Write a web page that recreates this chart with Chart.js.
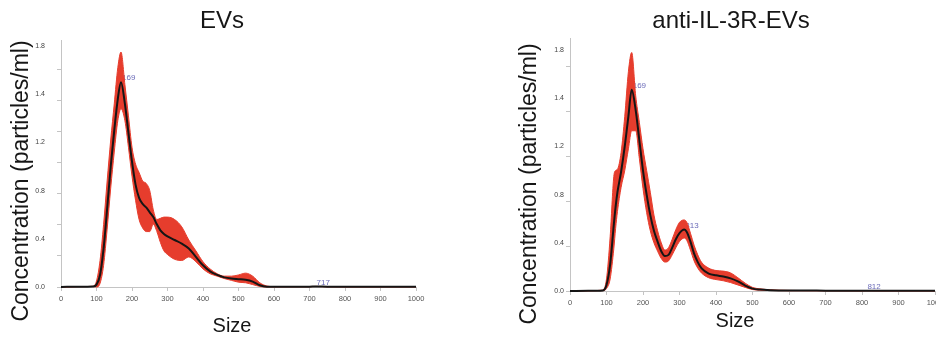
<!DOCTYPE html>
<html><head><meta charset="utf-8">
<script src="https://cdn.jsdelivr.net/npm/chart.js@4/dist/chart.umd.min.js"></script>
<style>
html,body{margin:0;padding:0;width:936px;height:337px;overflow:hidden;background:#fff;}
.box{position:absolute;top:0;height:337px;}
#b1{left:0;width:460px;}
#b2{left:500px;width:466px;}
</style></head><body>
<div class="box" id="b1"><canvas id="c1"></canvas></div>
<div class="box" id="b2"><canvas id="c2"></canvas></div>
<script>
// ---- data ----
const yTickLabels = ['0.0','0.4','0.8','1.2','1.4','1.8'];
const xTickStep = 100;
const xTitle = 'Size';
const yTitle = 'Concentration (particles/ml)';

const evsSizes = [0,50,90,100,110,120,130,140,150,160,169,180,190,200,210,220,230,240,250,260,270,280,290,300,320,340,360,380,400,420,440,460,480,500,520,540,560,580,600,700,717,750,800,900,1000];
const evsMean  = [0,0.003,0.005,0.02,0.10,0.32,0.65,1.00,1.30,1.56,1.70,1.52,1.28,1.04,0.85,0.74,0.69,0.66,0.62,0.58,0.52,0.47,0.44,0.42,0.39,0.36,0.32,0.25,0.18,0.13,0.10,0.08,0.07,0.065,0.06,0.045,0.015,0.003,0.002,0.003,0.005,0.003,0.002,0.002,0.002];
const evsUpper = [0,0.003,0.006,0.05,0.22,0.52,0.88,1.22,1.52,1.82,1.95,1.68,1.42,1.16,1.02,0.95,0.88,0.86,0.80,0.64,0.56,0.57,0.58,0.58,0.56,0.50,0.39,0.30,0.21,0.15,0.11,0.09,0.09,0.10,0.115,0.09,0.035,0.008,0.003,0.003,0.005,0.003,0.002,0.002,0.002];
const evsLower = [0,0.003,0.004,0.0,0.03,0.18,0.48,0.82,1.12,1.38,1.48,1.38,1.16,0.92,0.72,0.56,0.49,0.46,0.46,0.52,0.46,0.37,0.30,0.27,0.23,0.22,0.25,0.21,0.15,0.11,0.09,0.07,0.055,0.04,0.035,0.02,0.005,0.0,0.001,0.002,0.004,0.002,0.001,0.001,0.001];
const evsPeaks = [169, 717];

const ilSizes = [0,50,90,100,110,120,125,130,140,150,160,169,180,190,200,210,220,230,240,250,260,270,280,290,300,313,320,330,340,350,360,380,400,420,440,460,480,500,520,550,600,700,800,812,850,900,1000];
const ilMean  = [0,0.002,0.005,0.05,0.22,0.55,0.70,0.82,0.99,1.20,1.45,1.67,1.50,1.25,1.00,0.80,0.63,0.50,0.41,0.33,0.29,0.30,0.36,0.43,0.48,0.51,0.49,0.41,0.31,0.24,0.19,0.145,0.13,0.12,0.105,0.08,0.045,0.02,0.012,0.007,0.004,0.003,0.002,0.003,0.002,0.002,0.002];
const ilUpper = [0,0.002,0.008,0.10,0.45,0.95,1.00,1.01,1.15,1.45,1.82,1.98,1.62,1.40,1.18,1.00,0.82,0.63,0.50,0.40,0.34,0.36,0.43,0.51,0.57,0.59,0.57,0.48,0.38,0.30,0.24,0.19,0.17,0.165,0.15,0.11,0.065,0.03,0.018,0.01,0.005,0.003,0.002,0.003,0.002,0.002,0.002];
const ilLower = [0,0.002,0.003,0.02,0.10,0.35,0.52,0.66,0.86,1.00,1.18,1.33,1.33,1.10,0.85,0.65,0.50,0.40,0.33,0.27,0.24,0.25,0.30,0.36,0.41,0.44,0.42,0.34,0.25,0.19,0.15,0.11,0.095,0.085,0.07,0.05,0.03,0.012,0.007,0.004,0.002,0.002,0.001,0.002,0.001,0.001,0.001];
const ilPeaks = [169, 313, 812];

// ---- styles ----
const FONT = 'Arial, "Liberation Sans", Helvetica, sans-serif';
const RED = '#e63d2d';
const AXIS = '#c4c4c4';

function build(id, o) {
  const pts = ys => o.sizes.map((s, i) => ({x: s, y: ys[i]}));
  const peakPlugin = {
    id: 'peakText',
    beforeDatasetsDraw(chart) {
      const {ctx, scales} = chart;
      ctx.save();
      ctx.font = '8px ' + FONT;
      ctx.fillStyle = '#6b6bb8';
      ctx.textAlign = 'left';
      ctx.textBaseline = 'bottom';
      o.peaks.forEach(p => {
        const i = o.sizes.indexOf(p);
        ctx.fillText(String(p), scales.x.getPixelForValue(p) + 1, scales.y.getPixelForValue(o.mean[i]));
      });
      ctx.restore();
    }
  };
  const axisTitlePlugin = {
    id: 'axisTitles',
    afterDraw(chart) {
      const ctx = chart.ctx;
      ctx.save();
      ctx.fillStyle = '#161616';
      ctx.textAlign = 'center';
      ctx.textBaseline = 'middle';
      ctx.font = '20px ' + FONT;
      ctx.fillText(xTitle, o.xTitleX, o.xTitleY);
      ctx.translate(o.yTitleX, o.yTitleY);
      ctx.rotate(-Math.PI / 2);
      ctx.font = '23px ' + FONT;
      ctx.fillText(yTitle, 0, 0);
      ctx.restore();
    }
  };
  return new Chart(document.getElementById(id), {
    type: 'line',
    data: {datasets: [
      {data: pts(o.mean), borderColor: '#151515', borderWidth: 2, pointRadius: 0, fill: false, cubicInterpolationMode: 'monotone', clip: 4},
      {data: pts(o.upper), borderColor: RED, backgroundColor: RED, borderWidth: 1, pointRadius: 0, fill: '+1', cubicInterpolationMode: 'monotone', clip: 4},
      {data: pts(o.lower), borderColor: RED, borderWidth: 1, pointRadius: 0, fill: false, cubicInterpolationMode: 'monotone', clip: 4}
    ]},
    options: {
      responsive: true, maintainAspectRatio: false, animation: false,
      layout: {padding: {left: o.padLeft, right: o.padRight, top: 0, bottom: 0}},
      plugins: {
        legend: {display: false}, tooltip: {enabled: false},
        title: {display: true, text: o.title, color: '#161616',
          font: {family: FONT, size: 24, weight: 'normal'}, padding: {top: 6.6, bottom: o.titleBottom}}
      },
      scales: {
        x: {type: 'linear', min: 0, max: 1000,
          ticks: {stepSize: xTickStep, includeBounds: false, autoSkip: false, maxRotation: 0, padding: 3,
            font: {family: FONT, size: 7.5}, color: '#555', callback: v => String(v)},
          grid: {drawOnChartArea: false, tickLength: 4, color: AXIS},
          border: {color: AXIS},
          afterFit(s) { s.height = o.xHeight; }
        },
        yTicks: {type: 'linear', position: 'left', min: 0, max: o.yMax, weight: 0,
          ticks: {display: false, stepSize: o.minorStep, includeBounds: false},
          grid: {drawOnChartArea: false, tickLength: 4, color: AXIS},
          border: {color: AXIS},
          afterFit(s) { s.width = 5; }
        },
        y: {type: 'linear', position: 'left', min: 0, max: o.yMax, weight: 1,
          ticks: {stepSize: 0.4, includeBounds: false, padding: o.labelPad,
            font: {family: FONT, size: 7}, color: '#444',
            callback: (v, i) => (yTickLabels[i] !== undefined ? yTickLabels[i] : '')},
          grid: {display: false, drawTicks: false},
          border: {display: false},
          afterFit(s) { s.width = o.yLabelWidth; }
        }
      }
    },
    plugins: [peakPlugin, axisTitlePlugin]
  });
}

build('c1', {sizes: evsSizes, mean: evsMean, upper: evsUpper, lower: evsLower, peaks: evsPeaks,
  title: 'EVs', padLeft: 28, padRight: 44, titleBottom: 4.6, xHeight: 50,
  yMax: 2.05, minorStep: 0.2573, labelPad: 11, yLabelWidth: 28,
  xTitleX: 232, xTitleY: 326, yTitleX: 21.5, yTitleY: 181});

build('c2', {sizes: ilSizes, mean: ilMean, upper: ilUpper, lower: ilLower, peaks: ilPeaks,
  title: 'anti-IL-3R-EVs', padLeft: 27, padRight: 31, titleBottom: 2.6, xHeight: 46,
  yMax: 2.1, minorStep: 0.3734, labelPad: 1, yLabelWidth: 38,
  xTitleX: 235, xTitleY: 321, yTitleX: 30, yTitleY: 184});
</script>
</body></html>
